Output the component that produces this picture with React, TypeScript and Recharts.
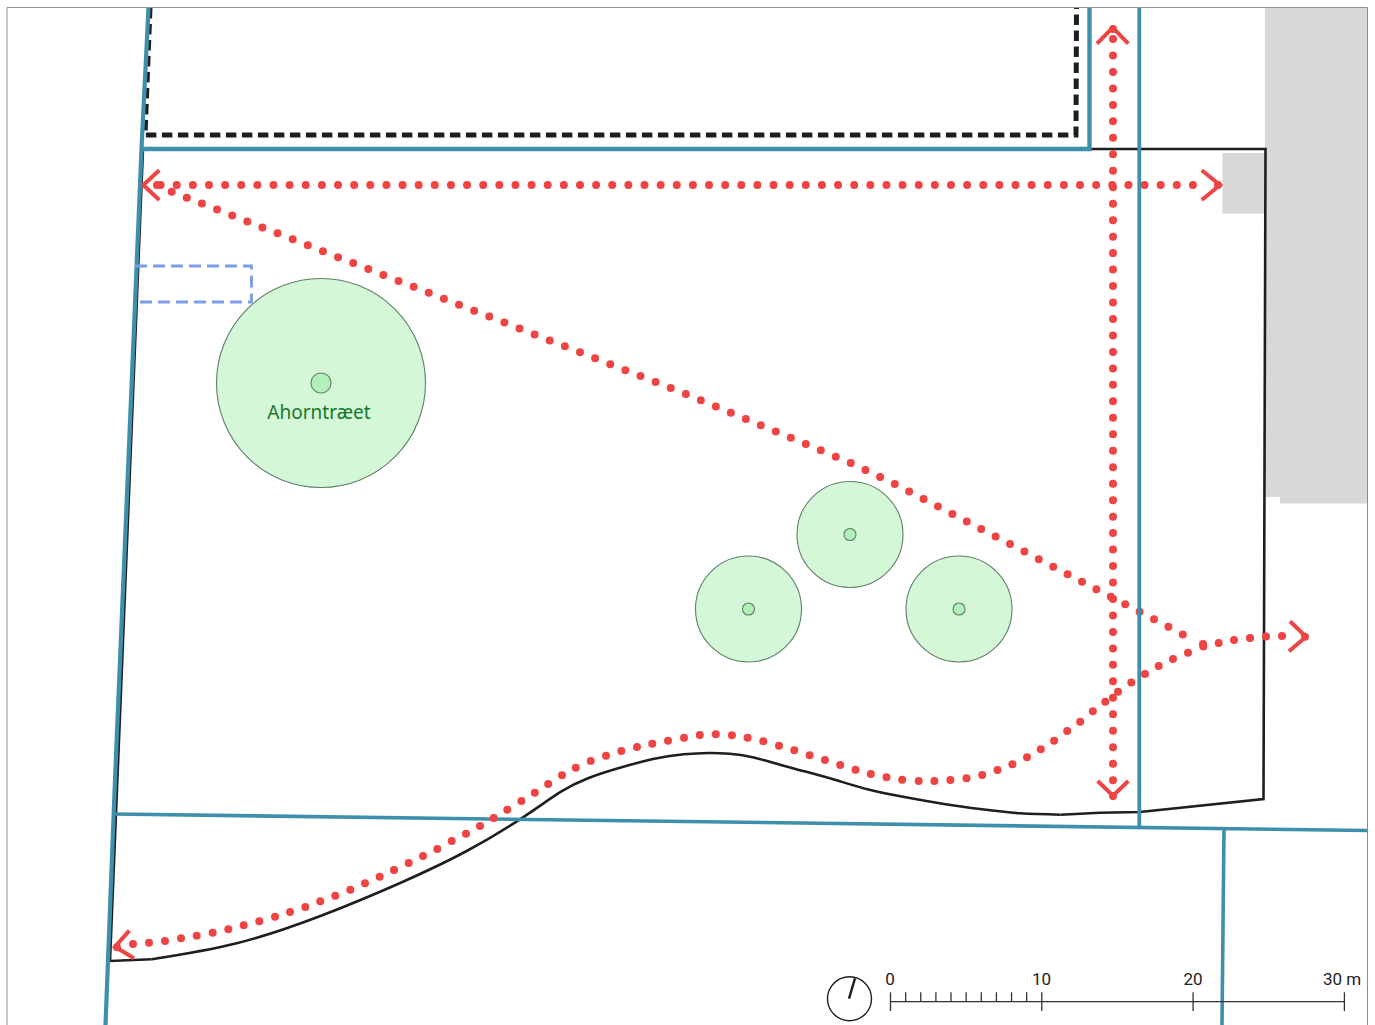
import { ComposedChart, Line, XAxis, YAxis, ReferenceArea, ReferenceDot } from "recharts";

type Pt = [number, number];

// everything is in map units of the plan sheet (1 unit = 1 px on the sheet)
const frame: Pt[] = [[7, 1025], [7, 7.5], [1367.5, 7.5], [1367.5, 1025]];

const buildingMain: Pt[] = [[1265, 8], [1367, 497]];
const buildingStep: Pt[] = [[1280, 497], [1367, 503.5]];
const buildingSmall: Pt[] = [[1222.5, 153], [1264.5, 213.5]];

const plotEdge: Pt[] = [
  [1090, 149], [1265.5, 149], [1263.5, 799], [1140, 812], [1100, 812.7], [1060.6, 814.7],
];
const plotEdgeWest: Pt[] = [[151.7, 959.3], [110, 961], [143, 149]];
const groundCurve: Pt[] = [
  [1060.6, 814.7], [1020.5, 813.3], [982, 809.3], [944, 804], [905.7, 797.3], [867.4, 789.3], [829, 778],
  [790.9, 767.7], [752.6, 757.3], [729.6, 753.7], [708.6, 753], [683.7, 754.3], [653, 759], [614.8, 769.3],
  [588, 778.3], [561, 791.7], [523, 817.3], [466.7, 851], [403, 881.7], [323, 915], [236.7, 943.3], [151.7, 959.3],
];

const fenceLine: Pt[] = [[150, 8], [145, 135], [1076, 135], [1076.5, 8]];
const planned: Pt[] = [[135, 266], [251.5, 266], [251.5, 302], [135, 302]];

const boundaryWest: Pt[] = [[148.5, 8], [141.5, 149], [115, 780], [105.5, 1025]];
const boundaryNorth: Pt[] = [[141.5, 149], [1089.5, 149], [1089.5, 8]];
const boundaryEast: Pt[] = [[1139.3, 8], [1139.3, 827]];
const boundarySouth: Pt[] = [[114, 814], [1367, 830.5]];
const boundaryLot: Pt[] = [[1224, 829], [1222, 1025]];

const pathAcross: Pt[] = [[160.6, 185], [1194, 185]];
const pathUpDown: Pt[] = [[1113, 39], [1113, 782]];
const pathDiagonal: Pt[] = [[171.7, 191.7], [686, 394], [851, 463], [895, 484], [1184, 635]];
const pathCurve: Pt[] = [
  [1282, 636], [1266, 636.5], [1250, 638], [1234, 640], [1218.7, 643], [1203.3, 646.5], [1203, 644],
  [1188, 652.7], [1173, 659], [1158.7, 666], [1145, 674], [1131.3, 682.5], [1118, 691.7], [1105.3, 701.7],
  [1092.8, 711.3], [1080.2, 721.7], [1067.2, 731], [1054.1, 740.7], [1040.8, 749.3], [1027, 757.3],
  [1012.4, 764.3], [997.5, 770], [982.2, 775], [966.5, 778.3], [950.4, 780], [934.4, 781], [918.7, 781],
  [902.2, 779.7], [886.5, 777.3], [870.8, 774], [855.5, 769.7], [840.2, 765], [824.9, 760], [809.6, 755.3],
  [794.3, 750.3], [779, 745.7], [763.3, 741.3], [747.6, 737.7], [731.9, 735.3], [715.8, 734.3], [699.8, 735],
  [684, 737.7], [668, 740.7], [652.3, 743.7], [637, 747], [621.3, 751], [606, 755.7], [590.7, 761],
  [575.8, 767.7], [562, 775.3], [548.2, 784], [534.8, 792.7], [521.4, 801], [507.3, 809.7], [493.7, 818],
  [480, 826], [466, 833.7], [451.7, 841], [437.3, 849], [423, 856], [408.7, 863], [394, 870], [379.7, 876.7],
  [365, 883.3], [350.3, 889.7], [335.3, 895.7], [320.3, 901.3], [305.3, 907], [290, 912], [275, 916.7],
  [259.3, 921.3], [243.7, 925.3], [228.3, 929.3], [212.7, 932.7], [196.7, 935.7], [181, 938.3], [165, 941],
  [149, 942.7], [133, 944],
];
const pathEnds: Pt[] = [[1218, 185], [157, 185], [1113, 29], [1113, 796], [1305, 636.7], [117, 947.3]];

const arrows: Pt[][] = [
  [[159.3, 170.3], [143.3, 185], [159.3, 200]],
  [[1201.7, 170.3], [1220, 185], [1201.7, 200]],
  [[1097, 43.7], [1112.7, 27.7], [1128.3, 43.7]],
  [[1097.7, 781], [1113, 795.7], [1128.3, 781]],
  [[1290, 621.3], [1306, 636.7], [1289, 651.3]],
  [[129.3, 930.7], [115, 946.7], [134, 958.3]],
];

const treeX = [321, 850, 748.5, 959];
const treeY = [383, 534.5, 609, 609];
const crownRadius = [104.5, 53, 53, 53];
const trunkRadius = [10, 6, 6, 6];
const treeName = "Ahorntræet";

const scaleMetres = [0, 1, 2, 3, 4, 5, 6, 7, 8, 9, 10, 20, 30];
const scaleLabels: [number, string, number][] = [[0, "0", 890], [10, "10", 1041.5], [20, "20", 1193], [30, "30 m", 1342]];
const unitsPerMetre = 15.13;
const scaleX0 = 890.5;
const scaleY = 1001.7;

const north: Pt[] = [[849, 998.7], [855, 978.3]];
const northCentre: Pt = [849.5, 998.7];

const RED = "#ef4444";
const BLUE = "#3e8fab";
const INK = "#1e1e1e";
const GREY = "#d8d8d8";
const TREE_EDGE = "#5f7f69";

const pts = (a: Pt[]) => a.map(([x, y]) => ({ x, y }));

const line = (key: string, d: Pt[], color: string, w: number, dash?: string, cap: "round" | "butt" = "butt", curve: "linear" | "natural" = "linear") => (
  <Line
    key={key}
    data={pts(d)}
    dataKey="y"
    type={curve}
    stroke={color}
    strokeWidth={w}
    strokeDasharray={dash}
    strokeLinecap={cap}
    strokeLinejoin="miter"
    dot={false}
    activeDot={false}
    legendType="none"
    isAnimationActive={false}
  />
);

const dots = (key: string, d: Pt[]) => (
  <Line
    key={key}
    data={pts(d)}
    dataKey="y"
    stroke="none"
    dot={{ r: 4, fill: RED, stroke: "none" }}
    activeDot={false}
    isAnimationActive={false}
  />
);

const tick = (m: number) => {
  const x = scaleX0 + m * unitsPerMetre;
  const major = m % 10 === 0;
  return line(`tick${m}`, [[x, 992.3], [x, major ? 1011 : scaleY]], "#333", 1.3);
};

export default function App() {
  return (
    <div style={{ position: "absolute", left: 0, top: 0, width: 1375, height: 1025 }}>
      <ComposedChart width={1375} height={1025} margin={{ top: 0, right: 0, bottom: 0, left: 0 }}>
        <XAxis dataKey="x" type="number" domain={[0, 1375]} hide />
        <YAxis type="number" domain={[0, 1025]} reversed hide />

        {[buildingMain, buildingStep, buildingSmall].map((b, i) => (
          <ReferenceArea key={i} x1={b[0][0]} y1={b[0][1]} x2={b[1][0]} y2={b[1][1]} fill={GREY} fillOpacity={1} stroke="none" />
        ))}

        {treeX.map((x, i) => (
          <ReferenceDot key={`c${i}`} x={x} y={treeY[i]} r={crownRadius[i]} fill="#d4f7d7" fillOpacity={1} stroke={TREE_EDGE} strokeWidth={1.1} />
        ))}
        {treeX.map((x, i) => (
          <ReferenceDot key={`t${i}`} x={x} y={treeY[i]} r={trunkRadius[i]} fill="#b2efb9" fillOpacity={1} stroke={TREE_EDGE} strokeWidth={1.1} />
        ))}
        <ReferenceDot
          x={319}
          y={412}
          r={0}
          stroke="none"
          label={{ value: treeName, position: "center", fill: "#15792b", fontSize: 19, fontFamily: "'Noto Sans', sans-serif" }}
        />
        <ReferenceDot x={northCentre[0]} y={northCentre[1]} r={22} fill="none" stroke={INK} strokeWidth={1.4} />

        {line("frame", frame, "#8c8c8c", 1)}
        {line("plot", plotEdge, INK, 2.6)}
        {line("plotWest", plotEdgeWest, INK, 2.6)}
        {line("ground", groundCurve, INK, 2.6, undefined, "butt", "natural")}
        {line("fence", fenceLine, INK, 5, "10.5 5.5")}

        {line("across", pathAcross, RED, 8, "0 16.13", "round")}
        {line("updown", pathUpDown, RED, 8, "0 16.47", "round")}
        {line("diag", pathDiagonal, RED, 8, "0 16.25", "round")}
        {dots("curve", pathCurve)}
        {dots("ends", pathEnds)}
        {arrows.map((a, i) => line(`arrow${i}`, a, RED, 4))}

        {line("bw", boundaryWest, BLUE, 4.2)}
        {line("bn", boundaryNorth, BLUE, 4.4)}
        {line("be", boundaryEast, BLUE, 3.8)}
        {line("bs", boundarySouth, BLUE, 3.6)}
        {line("bl", boundaryLot, BLUE, 3.6)}
        {line("planned", planned, "#7b9be8", 2.8, "12 6")}

        {line("scale", [[scaleX0, scaleY], [scaleX0 + 30 * unitsPerMetre, scaleY]], "#333", 1.3)}
        {scaleMetres.map(tick)}
        {line("north", north, INK, 2.4)}
        {scaleLabels.map(([m, t, x]) => (
          <ReferenceDot
            key={m}
            x={x}
            y={978.8}
            r={0}
            stroke="none"
            label={{ value: t, position: "center", fill: "#222", fontSize: 17, fontFamily: "Roboto, sans-serif" }}
          />
        ))}
      </ComposedChart>
    </div>
  );
}
